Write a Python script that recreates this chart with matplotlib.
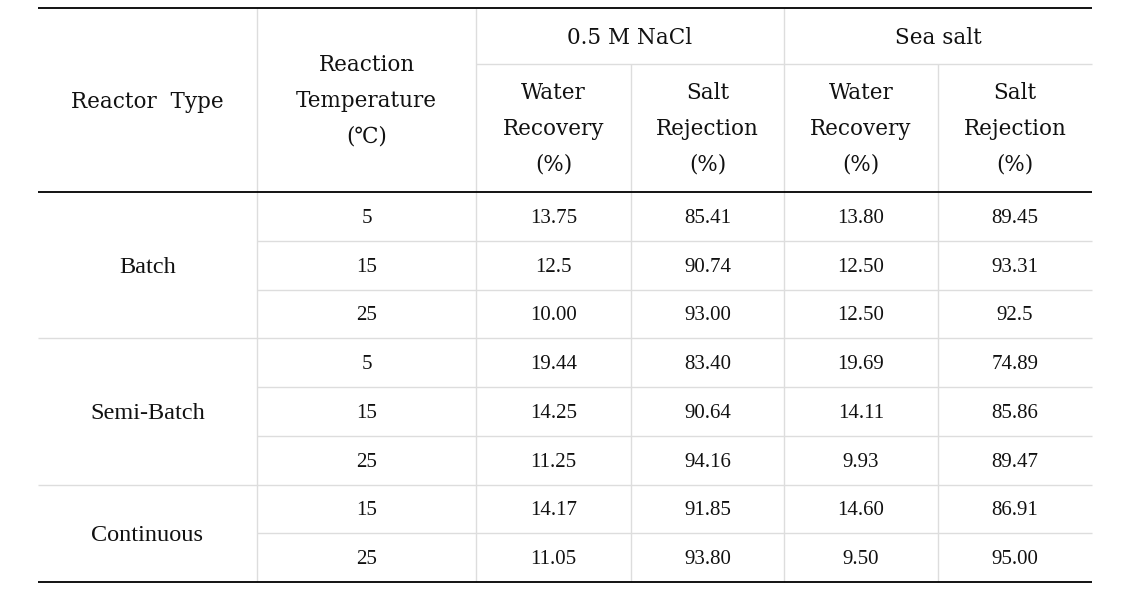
import numpy as np
import matplotlib.pyplot as plt

reactor_types = ['Batch', 'Semi-Batch', 'Continuous']
temps = [['5', '15', '25'], ['5', '15', '25'], ['15', '25']]
nacl_recovery = ['13.75', '12.5', '10.00', '19.44', '14.25', '11.25', '14.17', '11.05']
nacl_rejection = ['85.41', '90.74', '93.00', '83.40', '90.64', '94.16', '91.85', '93.80']
sea_recovery = ['13.80', '12.50', '12.50', '19.69', '14.11', '9.93', '14.60', '9.50']
sea_rejection = ['89.45', '93.31', '92.5', '74.89', '85.86', '89.47', '86.91', '95.00']

groups = ['0.5 M NaCl', 'Sea salt']
sub_header = 'Water\nRecovery\n(%)', 'Salt\nRejection\n(%)'

# layout in pixels
W, H = 1136, 604
col_x = np.array([38, 257, 476, 631, 784, 938, 1092])
top, mid_head, head_bot = 8, 64, 192
row_h = (582 - head_bot) / 8
row_y = head_bot + row_h * np.arange(9)

fig = plt.figure(figsize=(W / 100, H / 100), dpi=100)
ax = fig.add_axes([0, 0, 1, 1])
ax.set_xlim(0, W)
ax.set_ylim(H, 0)
ax.axis('off')

serif = ['Liberation Serif', 'DejaVu Serif']
hfont = dict(family=['DejaVu Serif', 'DejaVu Sans'], fontsize=15.5, color='#111111')
grey = '#dddddd'

# grey inner lines
ax.hlines(mid_head, col_x[2], col_x[6], color=grey, lw=1)
ax.vlines([col_x[1], col_x[2], col_x[4]], top, row_y[-1], color=grey, lw=1)
ax.vlines([col_x[3], col_x[5]], mid_head, row_y[-1], color=grey, lw=1)
# row lines: group separators full width, inner ones from column 1
group_sizes = [len(t) for t in temps]
bounds = np.cumsum(group_sizes)[:-1]
for i in range(1, 8):
    x0 = col_x[0] if i in bounds else col_x[1]
    ax.hlines(row_y[i], x0, col_x[-1], color=grey, lw=1)

# black rules
ax.hlines([top, head_bot, row_y[-1]], col_x[0], col_x[-1], color='black', lw=1.3)

# header text
hdr = dict(hfont, ha='center', va='center', linespacing=1.8)
ax.text((col_x[0] + col_x[1]) / 2, (top + head_bot) / 2 + 2, 'Reactor  Type', **hdr)
ax.text((col_x[1] + col_x[2]) / 2, (top + head_bot) / 2 + 1, 'Reaction\nTemperature\n(℃)', **hdr)
for g, name in enumerate(groups):
    ax.text((col_x[2 + 2 * g] + col_x[4 + 2 * g]) / 2, (top + mid_head) / 2 + 2, name, **hdr)
    for s in range(2):
        c = 2 + 2 * g + s
        ax.text((col_x[c] + col_x[c + 1]) / 2, (mid_head + head_bot) / 2 + 1, sub_header[s], **hdr)

# body
word = dict(family=serif, fontsize=17.5, color='#111111', ha='center', va='center')
num = dict(family=serif, fontsize=15, color='#111111', ha='center', va='center')
r = 0
for name, ts in zip(reactor_types, temps):
    ax.text((col_x[0] + col_x[1]) / 2, (row_y[r] + row_y[r + len(ts)]) / 2 + 2, name, **word)
    for t in ts:
        yc = (row_y[r] + row_y[r + 1]) / 2 + 2
        ax.text((col_x[1] + col_x[2]) / 2, yc, t, **num)
        for c, col in enumerate([nacl_recovery, nacl_rejection, sea_recovery, sea_rejection]):
            ax.text((col_x[2 + c] + col_x[3 + c]) / 2, yc, col[r], **num)
        r += 1

fig.savefig('out.png', dpi=100, facecolor='white')
